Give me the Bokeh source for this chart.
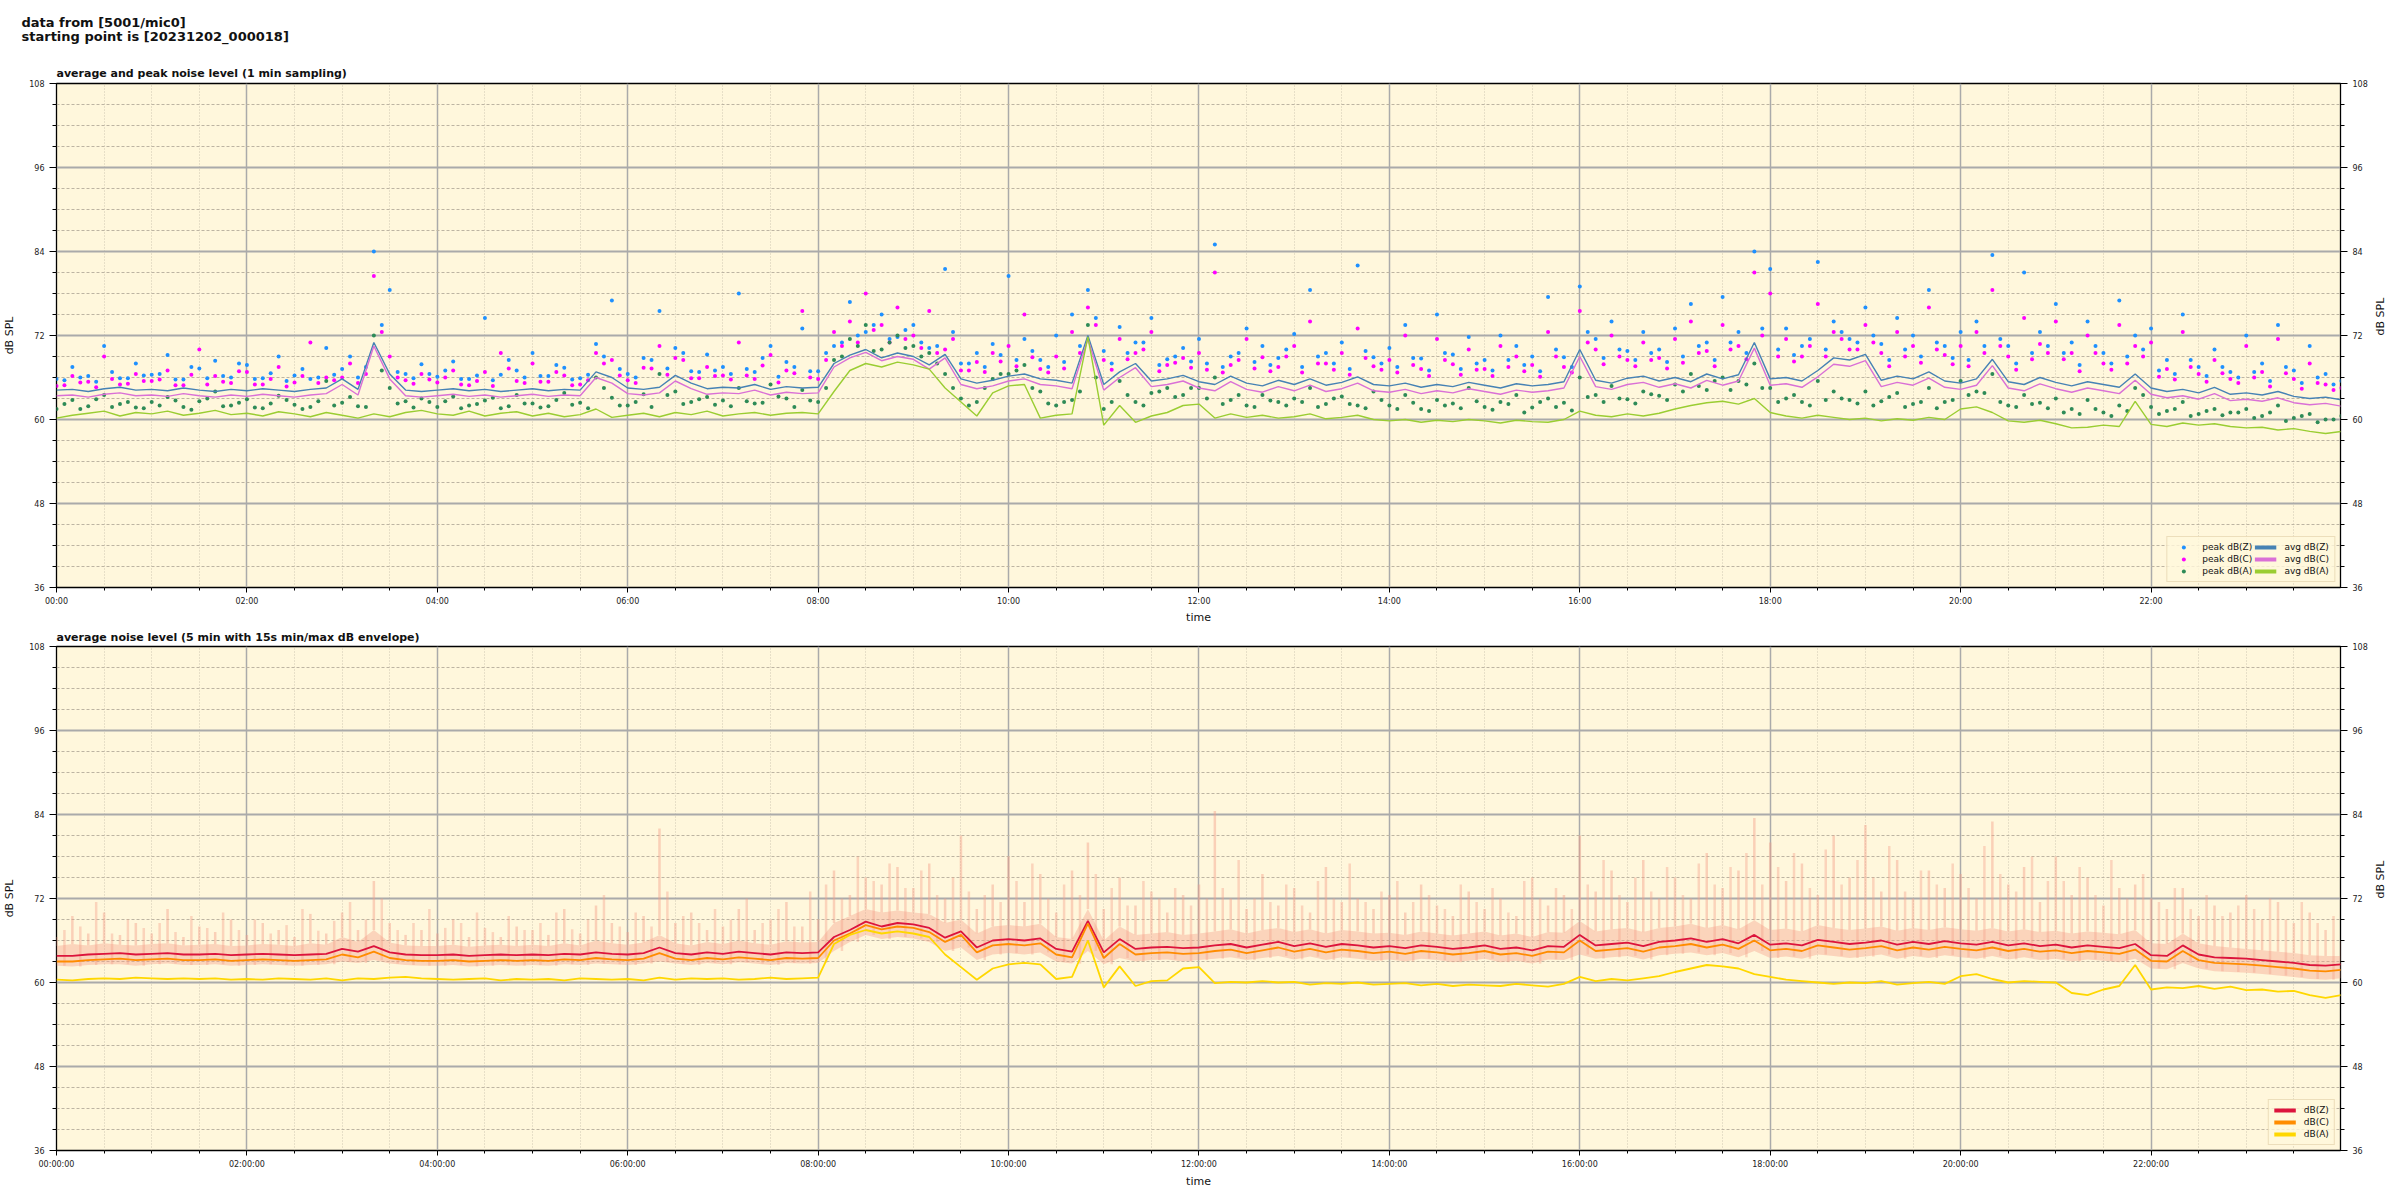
import math
from bokeh.plotting import figure
from bokeh.models import Range1d, LinearAxis, FixedTicker, Title, Legend, LegendItem
from bokeh.layouts import column
from bokeh.embed import file_html
from bokeh.resources import INLINE

# ---------------- data (10-minute resolution, hours since 00:00) ----------------
time_h = [i / 6 for i in range(145)]
time_h2 = [(10 * i + 5) / 60 for i in range(144)]

x_ticks = [0, 2, 4, 6, 8, 10, 12, 14, 16, 18, 20, 22]
top_tick_labels = ["00:00", "02:00", "04:00", "06:00", "08:00", "10:00",
                   "12:00", "14:00", "16:00", "18:00", "20:00", "22:00"]
bottom_tick_labels = ["00:00:00", "02:00:00", "04:00:00", "06:00:00", "08:00:00", "10:00:00",
                      "12:00:00", "14:00:00", "16:00:00", "18:00:00", "20:00:00", "22:00:00"]
y_ticks = [36, 48, 60, 72, 84, 96, 108]
y_minor = [36, 39, 42, 45, 48, 51, 54, 57, 60, 63, 66, 69, 72, 75, 78, 81, 84, 87, 90, 93, 96, 99, 102, 105, 108]
x_minor = [0, 0.5, 1, 1.5, 2, 2.5, 3, 3.5, 4, 4.5, 5, 5.5, 6, 6.5, 7, 7.5, 8, 8.5, 9, 9.5, 10, 10.5,
           11, 11.5, 12, 12.5, 13, 13.5, 14, 14.5, 15, 15.5, 16, 16.5, 17, 17.5, 18, 18.5, 19, 19.5,
           20, 20.5, 21, 21.5, 22, 22.5, 23, 23.5, 24]

# top panel: 1-minute averages
avg_z = [64.2, 64.3, 64.0, 64.4, 64.6, 64.2,
         64.3, 64.1, 64.5, 64.2, 64.0, 64.3,
         64.1, 64.4, 64.2, 64.0, 64.3, 64.5,
         65.8, 64.3, 71.0, 66.5, 64.2, 64.0,
         64.2, 64.4, 64.1, 64.3, 64.0, 64.2,
         64.4, 64.1, 64.3, 64.2, 66.8, 66.0,
         64.5, 64.3, 64.6, 66.3, 65.2, 64.4,
         64.6, 64.5, 65.0, 64.3, 64.7, 64.5,
         64.6, 68.0, 69.2, 70.0, 68.8, 69.5,
         69.0, 67.8, 69.3, 65.8, 65.2, 65.6,
         66.2, 66.5, 65.8, 65.6, 65.2, 72.0,
         65.0, 66.8, 68.0, 65.5, 65.8, 66.3,
         65.4, 65.0, 66.2, 65.2, 64.8, 65.6,
         65.0, 65.8, 64.9, 65.3, 66.1, 65.0,
         64.8, 65.2, 64.6, 65.0, 64.7, 65.3,
         64.9, 64.5, 65.1, 64.8, 65.0, 65.4,
         70.0, 65.6, 65.2, 65.9, 66.2, 65.5,
         66.0, 65.4, 66.5, 65.8, 66.4, 71.0,
         65.8, 66.0, 65.5, 67.0, 68.8, 68.5,
         69.3, 65.6, 66.2, 65.8, 66.8, 65.5,
         65.2, 65.8, 68.6, 65.4, 65.0, 66.0,
         65.3, 64.8, 65.4, 65.0, 64.6, 66.5,
         64.5, 64.0, 64.3, 63.8, 64.6, 63.6,
         63.8, 63.5, 64.0, 63.3, 63.0, 63.2,
         62.8]
avg_c = [63.4, 63.5, 63.2, 63.6, 63.8, 63.4,
         63.5, 63.3, 63.7, 63.4, 63.2, 63.5,
         63.3, 63.6, 63.4, 63.2, 63.5, 63.7,
         65.0, 63.5, 70.5, 65.8, 63.4, 63.2,
         63.4, 63.6, 63.3, 63.5, 63.2, 63.4,
         63.6, 63.3, 63.5, 63.4, 66.0, 65.2,
         63.7, 63.5, 63.8, 65.5, 64.4, 63.6,
         63.8, 63.7, 64.2, 63.5, 63.9, 63.7,
         63.8, 67.5, 68.8, 69.6, 68.4, 69.0,
         68.6, 67.2, 68.8, 65.0, 64.4, 64.8,
         65.5, 65.8, 65.0, 64.8, 64.4, 71.5,
         64.2, 66.0, 67.4, 64.7, 65.0, 65.5,
         64.5, 64.1, 65.4, 64.3, 63.9, 64.7,
         64.1, 64.9, 64.0, 64.4, 65.2, 64.1,
         63.9, 64.3, 63.7, 64.1, 63.8, 64.4,
         64.0, 63.6, 64.2, 63.9, 64.1, 64.5,
         69.0, 64.7, 64.3, 65.0, 65.3, 64.6,
         65.1, 64.5, 65.6, 64.9, 65.5, 70.2,
         64.9, 65.1, 64.6, 66.1, 67.9, 67.6,
         68.4, 64.7, 65.3, 64.9, 65.9, 64.6,
         64.3, 64.9, 67.7, 64.5, 64.1, 65.1,
         64.4, 63.9, 64.5, 64.1, 63.7, 65.6,
         63.6, 63.1, 63.4, 62.9, 63.7, 62.7,
         62.9, 62.6, 63.1, 62.4, 62.1, 62.3,
         61.9]
avg_a = [60.2, 60.6, 60.9, 61.2, 60.5, 61.0,
         60.8, 61.2, 60.6, 60.9, 61.3, 60.7,
         60.9, 60.5, 61.1, 60.8, 60.4, 61.0,
         60.6, 60.2, 60.8, 60.4, 61.0, 61.3,
         60.8, 60.6, 61.2, 60.5, 60.9, 61.1,
         60.5, 60.9, 60.4, 60.7, 61.5, 60.3,
         60.6, 60.9, 60.4, 61.0, 60.7, 61.2,
         60.5, 60.8, 61.0, 60.6, 60.9, 61.0,
         60.8, 64.0, 67.0, 68.0, 67.5, 68.2,
         67.8, 67.2, 64.5, 62.5, 60.5, 63.8,
         64.8, 65.0, 60.2, 60.6, 60.8, 71.8,
         59.2, 62.0, 59.6, 60.5, 61.0, 62.0,
         62.2, 60.2, 60.8, 60.3, 60.6, 60.2,
         60.4, 60.8, 60.1, 60.3, 60.6, 60.0,
         59.8, 60.0, 59.6, 59.9, 59.7, 60.0,
         59.8, 59.5, 59.9, 59.7, 59.6, 60.0,
         61.2, 60.6, 60.4, 60.8, 60.5, 60.9,
         61.5, 62.0, 62.4, 62.6, 62.2, 63.0,
         61.0, 60.5, 60.2, 60.6, 60.3, 60.0,
         60.2, 59.8, 60.1, 59.9, 60.3, 60.0,
         61.5, 61.8, 61.0, 59.8, 59.6, 59.9,
         59.4, 58.8, 58.9, 59.2, 59.0, 62.6,
         59.3, 59.0, 59.5, 59.2, 59.4, 59.0,
         58.8, 58.9, 58.5, 58.7, 58.3, 58.0,
         58.3]

# top panel: peak values (on the 10-minute marks)
peak_z = [65.8, 67.5, 66.2, 70.5, 65.9, 68.0,
          66.4, 69.2, 65.7, 67.3, 68.4, 66.0,
          67.8, 65.9, 69.0, 66.3, 65.8, 70.2,
          67.2, 66.0, 84.0, 78.5, 66.5, 67.9,
          66.1, 68.3, 65.8, 74.5, 66.4, 67.0,
          69.5, 66.2, 67.4, 65.9, 70.8, 77.0,
          66.5, 68.8, 75.5, 70.2, 66.9, 69.3,
          67.5, 78.0, 66.8, 70.5, 68.2, 73.0,
          66.9, 70.5, 76.8, 72.5, 75.0, 71.8,
          73.5, 70.2, 81.5, 68.0, 69.5, 70.8,
          80.5, 71.5, 68.5, 72.0, 75.0, 78.5,
          69.8, 73.2, 71.0, 74.5, 68.6, 70.2,
          71.5, 85.0, 69.0, 73.0, 70.5, 68.8,
          72.2, 78.5, 69.5, 71.0, 82.0, 68.9,
          70.2, 73.5, 68.7, 75.0, 69.3, 71.8,
          68.5, 72.0, 70.5, 69.0, 77.5, 68.9,
          79.0, 71.5, 74.0, 69.8, 72.5, 70.0,
          73.0, 76.5, 71.0, 77.5, 72.5, 84.0,
          81.5, 73.0, 70.5, 82.5, 74.0, 71.5,
          76.0, 70.8, 74.5, 72.0, 78.5, 70.5,
          72.5, 74.0, 83.5, 70.5, 81.0, 72.5,
          76.5, 71.0, 74.0, 69.5, 77.0, 72.0,
          73.0, 68.5, 75.0, 67.5, 70.0, 66.8,
          72.0, 68.0, 73.5, 67.0, 70.5, 66.5,
          65.5]
peak_c = [64.8, 66.2, 65.4, 69.0, 65.0, 66.5,
          65.5, 67.0, 64.9, 70.0, 66.2, 65.2,
          66.8, 65.0, 67.5, 65.3, 71.0, 66.0,
          66.0, 65.2, 80.5, 69.0, 65.6, 66.5,
          65.3, 67.0, 64.9, 66.8, 69.5, 65.5,
          68.0, 65.4, 66.3, 65.0, 69.5, 68.5,
          65.6, 67.4, 70.5, 68.8, 65.9, 67.5,
          66.3, 71.0, 65.8, 69.2, 67.0, 75.5,
          65.8, 72.5, 74.0, 78.0, 73.5, 76.0,
          72.0, 75.5, 70.0, 67.0, 68.2, 69.5,
          70.5, 75.0, 67.2, 69.0, 72.5, 76.0,
          68.5, 71.5, 69.5, 72.5, 67.8, 68.8,
          69.5, 81.0, 67.8, 71.5, 68.9, 67.5,
          70.5, 74.0, 68.0, 69.5, 73.0, 67.6,
          68.5, 72.0, 67.2, 71.5, 67.9, 70.0,
          67.2, 70.5, 69.0, 67.8, 72.5, 67.5,
          75.5, 70.0, 72.0, 68.5, 71.0, 68.8,
          71.5, 74.0, 69.8, 73.5, 70.5, 81.0,
          78.0, 71.5, 69.0, 76.5, 72.5, 70.0,
          73.5, 69.5, 72.5, 70.5, 76.0, 69.2,
          70.5, 72.5, 78.5, 69.0, 74.5, 70.8,
          74.0, 69.5, 72.0, 68.0, 73.5, 70.5,
          71.0, 67.2, 72.5, 66.5, 68.5, 65.8,
          70.5, 66.8, 71.5, 65.8, 68.0, 65.0,
          64.5]
peak_a = [61.5, 62.8, 61.9, 63.5, 62.2, 61.7,
          62.5, 63.2, 61.8, 62.6, 64.0, 62.0,
          62.9, 61.6, 63.4, 62.1, 61.8, 65.5,
          62.4, 61.9, 72.0, 64.5, 62.6, 63.0,
          61.8, 63.3, 62.0, 62.7, 61.6, 63.5,
          62.3, 61.9, 63.8, 62.4, 66.0, 63.1,
          62.0, 63.6, 66.5, 64.0, 62.5, 63.2,
          62.7, 64.5, 62.3, 65.0, 63.0, 64.2,
          62.5, 68.5, 71.5, 73.5, 70.0, 72.0,
          70.5, 69.5, 66.5, 63.0, 62.5, 65.8,
          66.5, 67.8, 64.0, 62.0, 62.8, 73.5,
          61.5, 65.5, 62.5, 63.8, 64.5, 63.5,
          64.5, 66.0, 62.8, 62.0, 63.5, 62.5,
          63.0, 64.5, 62.2, 63.3, 62.0, 64.0,
          62.0, 63.5, 61.5, 62.8, 62.3, 64.5,
          61.8, 62.5, 63.5, 61.7, 63.0, 62.4,
          66.0, 63.5, 64.8, 62.9, 64.0, 63.4,
          65.0, 66.5, 64.2, 66.0, 65.5, 68.0,
          64.5, 63.0, 62.5, 65.5, 64.0, 62.8,
          64.0, 62.6, 63.8, 62.2, 64.5, 62.5,
          65.5, 64.0, 66.5, 62.0, 63.5, 62.4,
          63.0, 61.5, 62.8, 61.0, 62.0, 64.5,
          61.8, 61.2, 62.5, 60.8, 61.5, 61.0,
          61.5, 60.5, 62.0, 60.2, 60.8, 60.0,
          60.5]

# top panel: peak values (on the 5-minute marks in between)
peak_z2 = [65.6, 66.0, 65.4, 66.8, 65.9, 66.3,
           66.5, 65.7, 67.5, 65.9, 66.2, 68.0,
           65.8, 66.6, 65.5, 67.2, 66.0, 66.4,
           69.0, 67.5, 73.5, 66.8, 65.9, 66.5,
           67.0, 65.8, 66.3, 65.6, 68.5, 66.0,
           66.2, 67.8, 65.7, 66.4, 69.0, 67.2,
           66.0, 68.5, 67.3, 69.5, 66.8, 67.0,
           66.5, 67.2, 68.8, 66.1, 67.5, 66.9,
           69.5, 71.0, 72.0, 73.5, 71.5, 72.8,
           71.0, 70.5, 72.5, 68.0, 67.5, 69.2,
           68.5, 69.8, 67.5, 68.2, 70.5, 74.5,
           68.0, 69.5, 71.0, 67.8, 69.0, 68.3,
           68.0, 67.5, 69.5, 68.2, 67.8, 70.0,
           67.5, 69.0, 68.0, 67.2, 69.8, 68.0,
           67.5, 68.8, 67.0, 69.5, 67.2, 68.0,
           67.0, 68.5, 67.8, 66.9, 70.0, 67.5,
           72.5, 68.8, 70.0, 68.5, 69.5, 68.2,
           69.0, 70.5, 68.5, 71.0, 69.5, 73.0,
           70.0, 69.2, 71.5, 70.0, 72.5, 71.0,
           72.0, 68.5, 70.0, 69.0, 71.0, 68.8,
           68.5, 70.5, 71.5, 68.0, 69.5, 70.5,
           69.5, 67.8, 70.5, 68.0, 69.0, 70.0,
           67.0, 66.5, 68.5, 66.2, 67.5, 66.0,
           66.8, 65.5, 67.5, 65.2, 66.0, 65.0]
peak_c2 = [64.9, 65.3, 64.6, 65.8, 65.1, 65.5,
           65.7, 64.9, 66.4, 65.0, 65.4, 66.9,
           65.0, 65.8, 64.7, 66.2, 65.2, 65.6,
           68.0, 66.5, 72.5, 66.0, 65.1, 65.7,
           66.0, 65.0, 65.5, 64.8, 67.3, 65.2,
           65.4, 66.8, 64.9, 65.6, 68.0, 66.3,
           65.2, 67.3, 66.4, 68.5, 65.9, 66.2,
           65.7, 66.3, 67.7, 65.3, 66.6, 66.0,
           68.5, 70.5, 71.0, 72.8, 71.0, 71.5,
           70.2, 69.5, 71.5, 67.0, 66.8, 68.3,
           67.6, 68.9, 66.7, 67.3, 69.5, 73.5,
           67.1, 68.6, 70.0, 66.9, 68.1, 67.4,
           67.1, 66.7, 68.5, 67.3, 66.9, 69.0,
           66.7, 68.0, 67.1, 66.4, 68.8, 67.1,
           66.7, 67.8, 66.2, 68.5, 66.4, 67.1,
           66.2, 67.5, 66.9, 66.1, 69.0, 66.7,
           71.0, 67.9, 69.0, 67.6, 68.5, 67.3,
           68.1, 69.5, 67.6, 70.0, 68.6, 72.0,
           69.0, 68.3, 70.5, 69.0, 71.5, 70.0,
           71.0, 67.6, 69.0, 68.1, 70.0, 67.9,
           67.6, 69.5, 70.5, 67.1, 68.6, 69.5,
           68.6, 66.9, 69.5, 67.1, 68.0, 69.0,
           66.1, 65.7, 67.5, 65.4, 66.6, 65.2,
           66.0, 64.7, 66.6, 64.4, 65.2, 64.2]
peak_a2 = [62.2, 61.5, 62.9, 61.8, 62.5, 61.6,
           62.0, 62.7, 61.4, 63.0, 61.9, 62.4,
           61.7, 62.3, 62.8, 61.5, 62.6, 62.0,
           63.2, 61.8, 67.0, 62.3, 61.7, 62.5,
           62.6, 61.6, 62.2, 63.1, 61.9, 62.3,
           61.7, 62.8, 62.1, 61.6, 64.5, 62.0,
           62.5, 61.8, 63.5, 62.2, 62.9, 62.1,
           61.9, 62.6, 62.4, 63.3, 61.8, 62.7,
           64.5, 69.0, 70.5, 69.8, 71.0, 70.2,
           69.0, 68.0, 64.5, 62.0, 64.5, 66.5,
           67.0, 64.5, 62.3, 62.5, 64.0, 66.0,
           62.5, 63.5, 62.0, 64.0, 63.2, 64.5,
           63.0, 62.2, 63.5, 61.8, 62.7, 62.0,
           62.5, 61.8, 63.0, 62.2, 61.6, 62.8,
           61.5, 62.4, 61.2, 62.0, 61.6, 62.6,
           61.4, 62.2, 61.0, 62.5, 61.8, 61.3,
           63.2, 62.5, 63.0, 62.3, 63.6, 62.8,
           64.0, 64.8, 65.5, 64.2, 65.0, 64.5,
           62.5, 63.5, 62.0, 62.8, 63.0, 62.3,
           62.0, 63.2, 61.8, 62.5, 61.6, 62.8,
           63.5, 63.8, 62.5, 61.8, 62.2, 61.6,
           61.0, 60.8, 61.5, 60.5, 61.2, 63.5,
           60.8, 61.5, 60.5, 61.2, 60.6, 61.0,
           60.2, 61.0, 59.8, 60.5, 59.6, 60.0]

# bottom panel: 5-minute averages
db_z = [63.8, 63.8, 64.0, 64.1, 64.2, 64.0,
        64.1, 64.2, 64.0, 64.0, 64.1, 63.9,
        64.0, 64.1, 64.0, 63.9, 64.0, 64.1,
        64.8, 64.4, 65.2, 64.3, 64.0, 63.9,
        63.9, 64.0, 63.8, 63.9, 64.0, 63.9,
        64.0, 63.9, 64.1, 64.0, 64.3, 64.1,
        64.0, 64.2, 65.0, 64.2, 64.0, 64.3,
        64.1, 64.4, 64.2, 64.0, 64.3, 64.2,
        64.3, 66.5, 67.5, 68.7, 68.0, 68.5,
        68.3, 67.8, 66.4, 67.3, 65.0, 66.0,
        66.2, 66.0, 66.3, 64.8, 64.4, 68.8,
        64.3, 66.2, 64.8, 65.0, 65.1, 64.9,
        65.0, 65.3, 65.5, 65.0, 65.4, 65.8,
        65.2, 65.6, 65.1, 65.5, 65.3, 65.0,
        65.2, 64.9, 65.3, 65.1, 64.8, 65.0,
        65.3, 64.8, 65.0, 64.6, 65.2, 65.1,
        66.8, 65.3, 65.5, 65.7, 65.2, 65.8,
        66.0, 66.3, 65.8, 66.2, 65.6, 66.8,
        65.4, 65.6, 65.3, 66.1, 65.8, 65.5,
        65.7, 66.0, 65.4, 65.8, 65.5, 65.9,
        65.6, 65.4, 65.8, 65.3, 65.6, 65.2,
        65.4, 65.0, 65.3, 65.1, 64.9, 65.5,
        63.9, 63.8, 65.3, 64.0, 63.6, 63.5,
        63.4, 63.2, 63.0, 62.8, 62.5, 62.4,
        62.6]
db_c = [63.0, 63.0, 63.2, 63.3, 63.4, 63.2,
        63.3, 63.4, 63.2, 63.2, 63.3, 63.1,
        63.2, 63.3, 63.2, 63.1, 63.2, 63.3,
        64.0, 63.6, 64.4, 63.5, 63.2, 63.1,
        63.1, 63.2, 63.0, 63.1, 63.2, 63.1,
        63.2, 63.1, 63.3, 63.2, 63.5, 63.3,
        63.2, 63.4, 64.2, 63.4, 63.2, 63.5,
        63.3, 63.6, 63.4, 63.2, 63.5, 63.4,
        63.5, 66.0, 67.0, 68.2, 67.6, 68.0,
        67.8, 67.2, 65.8, 66.8, 64.3, 65.3,
        65.5, 65.3, 65.6, 64.0, 63.6, 68.4,
        63.5, 65.5, 64.0, 64.2, 64.3, 64.1,
        64.2, 64.5, 64.7, 64.2, 64.6, 65.0,
        64.4, 64.8, 64.3, 64.7, 64.5, 64.2,
        64.4, 64.1, 64.5, 64.3, 64.0, 64.2,
        64.5, 64.0, 64.2, 63.8, 64.4, 64.3,
        66.0, 64.5, 64.7, 64.9, 64.4, 65.0,
        65.2, 65.5, 65.0, 65.4, 64.8, 66.0,
        64.6, 64.8, 64.5, 65.3, 65.0, 64.7,
        64.9, 65.2, 64.6, 65.0, 64.7, 65.1,
        64.8, 64.6, 65.0, 64.5, 64.8, 64.4,
        64.6, 64.2, 64.5, 64.3, 64.1, 64.7,
        63.1, 63.0, 64.5, 63.2, 62.8, 62.7,
        62.6, 62.4, 62.2, 62.0, 61.7, 61.6,
        61.8]
db_a = [60.4, 60.3, 60.5, 60.6, 60.5, 60.7,
        60.6, 60.5, 60.6, 60.5, 60.6, 60.4,
        60.5, 60.4, 60.6, 60.5, 60.4, 60.6,
        60.3, 60.6, 60.5, 60.7, 60.8, 60.6,
        60.5, 60.4, 60.5, 60.6, 60.3, 60.5,
        60.4, 60.5, 60.3, 60.6, 60.5, 60.4,
        60.5, 60.3, 60.7, 60.4, 60.6, 60.5,
        60.6, 60.4, 60.5, 60.7, 60.5, 60.6,
        60.7, 65.5, 66.8, 67.5, 67.0, 67.3,
        67.0, 66.5, 64.0, 62.2, 60.4, 62.0,
        62.6, 62.8, 62.6, 60.5, 60.8, 66.0,
        59.3, 62.3, 59.5, 60.2, 60.3, 62.0,
        62.2, 59.9, 60.1, 60.0, 60.2, 60.0,
        60.1, 59.7, 59.9, 59.8, 60.0, 59.7,
        59.8, 59.9, 59.6, 59.8, 59.5, 59.7,
        59.6, 59.5, 59.8, 59.6, 59.4, 59.8,
        60.8, 60.2, 60.5, 60.3, 60.6, 60.9,
        61.5, 62.0, 62.5, 62.3, 62.0, 61.2,
        60.8, 60.4, 60.2, 60.0, 59.8, 60.0,
        59.9, 60.2, 59.7, 59.9, 60.1, 59.8,
        60.9, 61.2, 60.5, 60.0, 60.2, 60.1,
        60.0, 58.5, 58.2, 59.0, 59.5, 62.5,
        59.0, 59.3, 59.2, 59.5, 59.1, 59.4,
        58.9, 59.0, 58.7, 58.8, 58.2, 57.8,
        58.2]

# bottom panel: 15 s min/max envelope (dense band + max spikes)
env_lo = [62.4, 62.3, 62.5, 62.6, 62.6, 62.4,
          62.6, 62.7, 62.5, 62.5, 62.6, 62.4,
          62.5, 62.6, 62.5, 62.4, 62.5, 62.6,
          63.0, 62.8, 63.2, 62.7, 62.5, 62.4,
          62.4, 62.5, 62.3, 62.4, 62.5, 62.4,
          62.5, 62.4, 62.6, 62.5, 62.7, 62.6,
          62.5, 62.7, 63.0, 62.7, 62.5, 62.8,
          62.6, 62.9, 62.7, 62.5, 62.8, 62.7,
          62.8, 64.5, 65.8, 66.8, 66.2, 66.5,
          66.3, 65.8, 64.5, 65.0, 63.2, 64.0,
          64.2, 64.0, 64.3, 63.0, 62.7, 64.5,
          62.6, 63.5, 63.0, 63.2, 63.3, 63.0,
          63.2, 63.4, 63.6, 63.2, 63.5, 63.8,
          63.3, 63.7, 63.2, 63.6, 63.4, 63.1,
          63.3, 63.0, 63.4, 63.2, 62.9, 63.1,
          63.4, 62.9, 63.1, 62.7, 63.3, 63.2,
          64.0, 63.4, 63.6, 63.8, 63.3, 63.9,
          64.1, 64.3, 63.9, 64.2, 63.6, 64.5,
          63.5, 63.7, 63.4, 64.0, 63.8, 63.5,
          63.7, 64.0, 63.4, 63.8, 63.5, 63.9,
          63.6, 63.4, 63.8, 63.3, 63.6, 63.2,
          63.4, 63.0, 63.3, 63.1, 62.9, 63.4,
          62.0, 61.9, 62.8, 62.0, 61.6, 61.5,
          61.4, 61.2, 61.0, 60.8, 60.5, 60.4,
          60.6]
env_mid = [65.2, 65.5, 65.3, 65.6, 65.4, 65.3,
           65.5, 65.6, 65.3, 65.4, 65.5, 65.2,
           65.3, 65.5, 65.4, 65.2, 65.6, 65.4,
           66.5, 65.8, 67.5, 65.7, 65.3, 65.2,
           65.2, 65.4, 65.1, 65.3, 65.4, 65.2,
           65.4, 65.2, 65.6, 65.3, 66.0, 65.6,
           65.4, 65.7, 66.8, 65.6, 65.3, 65.8,
           65.5, 66.0, 65.6, 65.4, 65.9, 65.7,
           65.8, 68.5, 69.5, 70.5, 70.0, 70.3,
           70.0, 69.8, 68.5, 69.0, 67.0, 68.0,
           68.2, 68.0, 68.4, 66.5, 66.2, 70.5,
           66.0, 68.0, 66.8, 67.0, 67.2, 66.8,
           67.0, 67.3, 67.6, 67.0, 67.5, 67.8,
           67.2, 67.6, 67.0, 67.5, 67.3, 67.0,
           67.1, 66.8, 67.3, 67.0, 66.7, 67.0,
           67.3, 66.7, 67.0, 66.5, 67.2, 67.1,
           68.8, 67.3, 67.6, 67.8, 67.2, 67.8,
           68.0, 68.4, 67.8, 68.2, 67.6, 68.9,
           67.5, 67.7, 67.3, 68.2, 67.8, 67.5,
           67.7, 68.0, 67.4, 67.8, 67.5, 67.9,
           67.6, 67.4, 67.8, 67.3, 67.6, 67.2,
           67.4, 67.0, 67.3, 67.1, 66.9, 67.5,
           65.6, 65.5, 67.0, 65.6, 65.2, 65.0,
           64.8, 64.6, 64.4, 64.2, 63.9, 63.8,
           63.8]
env_hi = [66.5, 69.5, 67.0, 70.0, 66.8, 68.5,
          67.0, 70.5, 66.5, 68.0, 67.2, 69.0,
          66.8, 68.5, 67.5, 66.5, 69.8, 67.0,
          70.0, 67.5, 74.5, 68.5, 66.8, 67.5,
          67.0, 69.0, 66.5, 67.8, 66.5, 68.0,
          67.5, 66.8, 70.5, 67.0, 71.0, 68.5,
          67.2, 69.5, 82.0, 68.5, 70.0, 67.5,
          68.0, 70.5, 67.5, 69.0, 71.5, 68.0,
          69.0, 76.0, 72.5, 75.0, 74.0, 76.5,
          73.5, 77.0, 72.0, 81.0, 70.5, 74.0,
          78.0, 71.5, 75.5, 70.0, 76.0, 80.0,
          70.5, 75.0, 71.0, 73.0, 70.0, 72.5,
          74.0, 84.5, 72.0, 70.5, 75.5, 71.0,
          73.5, 70.0, 76.5, 71.5, 72.0, 70.5,
          72.5, 70.0, 74.0, 71.0, 69.5, 73.0,
          70.5, 72.0, 69.5, 75.0, 71.0, 72.5,
          81.0, 73.0, 76.0, 71.5, 77.5, 72.0,
          75.0, 72.0, 78.5, 73.5, 76.0, 83.5,
          80.0, 74.5, 77.0, 72.5, 81.0, 75.0,
          82.5, 73.0, 77.5, 72.0, 76.0, 73.5,
          75.5, 72.0, 83.0, 74.0, 76.5, 71.5,
          78.0, 72.5, 75.0, 71.0, 73.5, 74.0,
          72.0, 70.5, 73.5, 69.5, 71.0, 70.0,
          72.5, 69.0, 71.5, 68.5, 70.0, 67.5,
          66.0]
env_hi2 = [67.5, 68.0, 71.5, 67.0, 69.0, 67.8,
           68.5, 67.2, 69.5, 67.8, 70.0, 67.5,
           69.0, 67.0, 68.2, 70.5, 67.4, 68.8,
           71.5, 69.0, 72.0, 67.5, 68.5, 70.5,
           67.8, 68.5, 70.0, 67.2, 69.5, 67.5,
           68.5, 70.0, 67.6, 69.0, 72.5, 68.0,
           70.0, 68.0, 73.0, 69.5, 68.5, 70.5,
           69.0, 72.0, 68.5, 70.5, 68.0, 73.0,
           74.0, 72.0, 78.0, 74.5, 77.0, 73.5,
           76.0, 72.5, 75.0, 73.0, 72.5, 71.5,
           74.5, 77.0, 72.0, 74.0, 72.5, 75.5,
           73.5, 71.0, 74.5, 72.0, 73.5, 71.0,
           72.0, 73.5, 77.5, 72.0, 71.5, 74.0,
           71.0, 74.5, 72.0, 77.0, 71.5, 73.0,
           74.5, 71.5, 72.5, 70.5, 74.0, 71.5,
           73.5, 70.0, 74.5, 72.0, 73.5, 70.5,
           74.0, 77.5, 72.5, 75.0, 73.0, 76.5,
           72.5, 77.0, 74.0, 76.5, 78.5, 74.0,
           76.5, 78.5, 73.5, 79.0, 74.0, 77.5,
           75.0, 79.5, 73.0, 76.0, 74.0, 77.0,
           73.5, 79.5, 75.5, 73.0, 78.0, 74.5,
           74.5, 76.5, 72.5, 77.5, 72.0, 75.5,
           71.5, 73.5, 70.5, 72.5, 69.5, 71.0,
           70.5, 72.0, 69.0, 71.5, 68.5, 69.5]

# ---------------- styling helpers ----------------
FONT = "DejaVu Sans"
BG = "#fff7dc"
ENV = "#f4a08a"


def make_fig():
    p = figure(frame_width=2284, frame_height=504, x_range=Range1d(0, 23.99),
               y_range=Range1d(36, 108), output_backend="svg", toolbar_location=None,
               title=None, min_border_left=51, min_border_right=10,
               min_border_top=0, min_border_bottom=0,
               background_fill_color=BG, border_fill_color="white")
    p.outline_line_color = "black"
    p.outline_line_width = 1.3
    p.outline_line_alpha = 1
    return p


def style_axes(p, labels, xlabel_standoff):
    xt = FixedTicker(ticks=x_ticks, minor_ticks=x_minor)
    yt = FixedTicker(ticks=y_ticks, minor_ticks=y_minor)
    p.xaxis.ticker = xt
    p.xaxis.major_label_overrides = {t: l for t, l in zip(x_ticks, labels)}
    p.xaxis.axis_label = "time"
    p.yaxis.ticker = yt
    p.yaxis.axis_label = "dB SPL"
    ra = LinearAxis(ticker=yt, axis_label="dB SPL")
    if "axis_label_orientation" in ra.properties():
        ra.axis_label_orientation = math.pi / 2
    p.add_layout(ra, "right")
    for ax in p.xaxis + p.yaxis:
        ax.axis_line_color = None
        ax.major_label_text_font = FONT
        ax.major_label_text_font_size = "8px"
        ax.major_label_text_color = "#222222"
        ax.axis_label_text_font = FONT
        ax.axis_label_text_font_size = "11px"
        ax.axis_label_text_font_style = "normal"
        ax.axis_label_text_color = "#111111"
        ax.major_tick_in = 0
        ax.minor_tick_in = 0
        ax.major_tick_line_color = "black"
        ax.minor_tick_line_color = "black"
    for ax in p.xaxis:
        ax.major_tick_out = 5
        ax.minor_tick_out = 3
        ax.major_label_standoff = 4
        ax.axis_label_standoff = xlabel_standoff
    for ax in p.yaxis:
        ax.major_tick_out = 7
        ax.minor_tick_out = 4
        ax.major_label_standoff = 5
        ax.axis_label_standoff = 10
    p.xgrid.ticker = xt
    p.ygrid.ticker = yt
    p.xgrid.grid_line_color = "#aaaaaa"
    p.ygrid.grid_line_color = "#aaaaaa"
    p.xgrid.grid_line_width = 1.5
    p.ygrid.grid_line_width = 1.8
    p.xgrid.minor_grid_line_color = "#cfc6b3"
    p.xgrid.minor_grid_line_dash = "1 2"
    p.ygrid.minor_grid_line_color = "#bdb4a2"
    p.ygrid.minor_grid_line_dash = "3 2"


def add_title(p, text, size, standoff, offset=0, lh=1.15, valign="bottom"):
    t = Title(text=text, align="left", text_font=FONT, text_font_size=size,
              text_font_style="bold", text_color="#111111", standoff=standoff,
              offset=offset, text_line_height=lh, vertical_align=valign)
    p.add_layout(t, "above")


def style_legend(leg):
    leg.label_text_font = FONT
    leg.label_text_font_size = "9px"
    leg.label_text_color = "#111111"
    leg.label_height = 10
    leg.glyph_height = 10
    leg.glyph_width = 22
    leg.spacing = 2
    leg.padding = 5
    leg.margin = 5
    leg.label_standoff = 8
    leg.background_fill_color = BG
    leg.background_fill_alpha = 0.8
    leg.border_line_color = "#d9c39a"
    leg.border_line_width = 1.5


# ---------------- top panel ----------------
p1 = make_fig()
style_axes(p1, top_tick_labels, 2)
add_title(p1, "average and peak noise level (1 min sampling)", "11px", 8)
add_title(p1, "data from [5001/mic0]\nstarting point is [20231202_000018]", "13px", 29, -35, 0.95, "top")

sz = p1.scatter(time_h, peak_z, size=4, color="#1e90ff", line_color=None)
sc = p1.scatter(time_h, peak_c, size=4, color="#ff00ff", line_color=None)
sa = p1.scatter(time_h, peak_a, size=4, color="#2e8b57", line_color=None)
p1.scatter(time_h2, peak_z2, size=4, color="#1e90ff", line_color=None)
p1.scatter(time_h2, peak_c2, size=4, color="#ff00ff", line_color=None)
p1.scatter(time_h2, peak_a2, size=4, color="#2e8b57", line_color=None)
p1.line(time_h, avg_z, color="#4682b4", line_width=1.4)
p1.line(time_h, avg_c, color="#da70d6", line_width=1.4)
p1.line(time_h, avg_a, color="#9acd32", line_width=1.4)

# legend proxies (single-point lines draw nothing, but give thick legend swatches)
mz = p1.line(time_h[:1], avg_z[:1], color="#4682b4", line_width=4)
mc = p1.line(time_h[:1], avg_c[:1], color="#da70d6", line_width=4)
ma = p1.line(time_h[:1], avg_a[:1], color="#9acd32", line_width=4)
leg1 = Legend(items=[LegendItem(label="peak dB(Z)", renderers=[sz]),
                     LegendItem(label="peak dB(C)", renderers=[sc]),
                     LegendItem(label="peak dB(A)", renderers=[sa]),
                     LegendItem(label="avg dB(Z)", renderers=[mz]),
                     LegendItem(label="avg dB(C)", renderers=[mc]),
                     LegendItem(label="avg dB(A)", renderers=[ma])],
              location="bottom_right", orientation="vertical", nrows=3)
style_legend(leg1)
p1.add_layout(leg1)

# ---------------- bottom panel ----------------
p2 = make_fig()
style_axes(p2, bottom_tick_labels, 3)
add_title(p2, "average noise level (5 min with 15s min/max dB envelope)", "11px", 5)

p2.varea(x=time_h, y1=env_lo, y2=env_mid, fill_color=ENV, fill_alpha=0.4)
p2.segment(x0=time_h, y0=env_mid, x1=time_h, y1=env_hi, line_color=ENV,
           line_alpha=0.45, line_width=2.5)
p2.segment(x0=time_h2, y0=env_lo[:-1], x1=time_h2, y1=env_hi2, line_color=ENV,
           line_alpha=0.4, line_width=2.5)
p2.line(time_h, db_z, color="#dc143c", line_width=1.8)
p2.line(time_h, db_c, color="#ff8c00", line_width=1.8)
p2.line(time_h, db_a, color="#ffd700", line_width=1.8)

kz = p2.line(time_h[:1], db_z[:1], color="#dc143c", line_width=4)
kc = p2.line(time_h[:1], db_c[:1], color="#ff8c00", line_width=4)
ka = p2.line(time_h[:1], db_a[:1], color="#ffd700", line_width=4)
leg2 = Legend(items=[LegendItem(label="dB(Z)", renderers=[kz]),
                     LegendItem(label="dB(C)", renderers=[kc]),
                     LegendItem(label="dB(A)", renderers=[ka])],
              location="bottom_right")
style_legend(leg2)
p2.add_layout(leg2)

layout = column(p1, p2, spacing=0)
open("out.html", "w").write(file_html(layout, INLINE))
